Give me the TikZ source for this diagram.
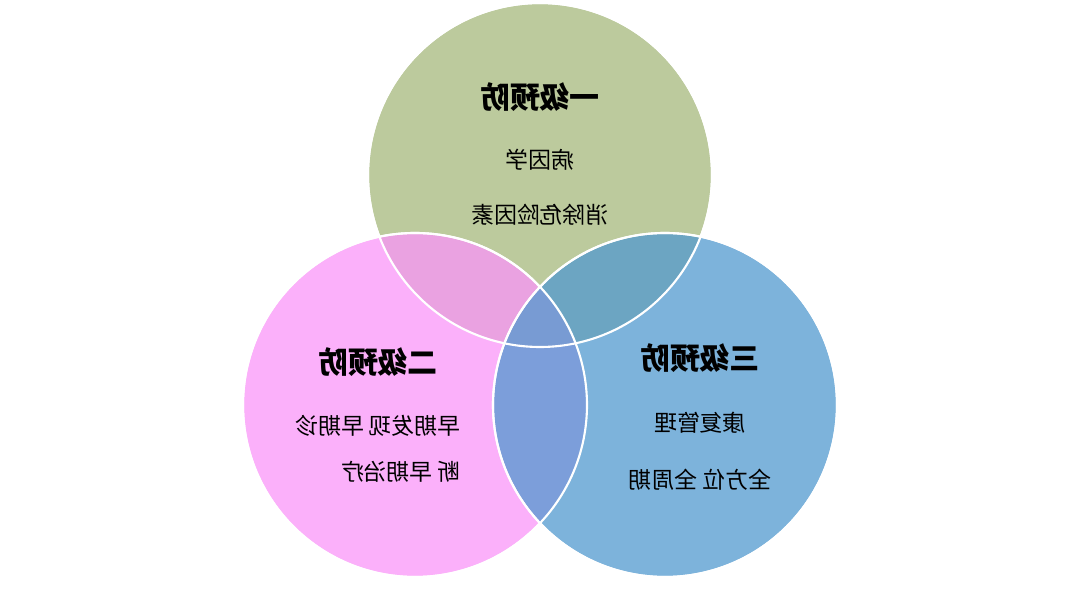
\documentclass[tikz,border=0pt]{standalone}
\usepackage{fontspec}
\setmainfont{Noto Sans CJK SC}
\begin{document}
\begin{tikzpicture}[x=0.02cm,y=-0.02cm]
    \tikzset{
      ring/.style={draw=white, line width=1.2pt, fill opacity=0.75},
      title/.style={font=\fontsize{17}{20}\selectfont\bfseries},
      body/.style={font=\fontsize{13}{22}\selectfont, align=center}
    }
    \useasboundingbox (0,0) rectangle (1080,594);
    % Drawing circles
    \fill [ring, fill={rgb,255:red,166;green,184;blue,124}] (540,175) circle (172);
    \fill [ring, fill={rgb,255:red,250;green,150;blue,248}] (415,405) circle (172);
    \fill [ring, fill={rgb,255:red,82;green,153;blue,207}] (665,405) circle (172);
    \draw [white, line width=1.2pt] (540,175) circle (172);
    \draw [white, line width=1.2pt] (415,405) circle (172);
    \draw [white, line width=1.2pt] (665,405) circle (172);
    % Texts (mirrored as printed)
    \node [title] (t1) at (540,97) {\scalebox{-1}[1]{一级预防}};
    \node [body] (b1) at (540,160) {\scalebox{-1}[1]{病因学}};
    \node [body] (c1) at (540,215) {\scalebox{-1}[1]{消除危险因素}};
    \node [title] (t2) at (378,362) {\scalebox{-1}[1]{二级预防}};
    \node [body] (b2) at (378,450) {\scalebox{-1}[1]{\begin{tabular}{@{}l@{}}早期发现 早期诊\\[4pt]断 早期治疗\end{tabular}}};
    \node [title] (t3) at (700,358) {\scalebox{-1}[1]{三级预防}};
    \node [body] (b3) at (700,423) {\scalebox{-1}[1]{康复管理}};
    \node [body] (c3) at (700,480) {\scalebox{-1}[1]{全方位 全周期}};
\end{tikzpicture}
\end{document}
